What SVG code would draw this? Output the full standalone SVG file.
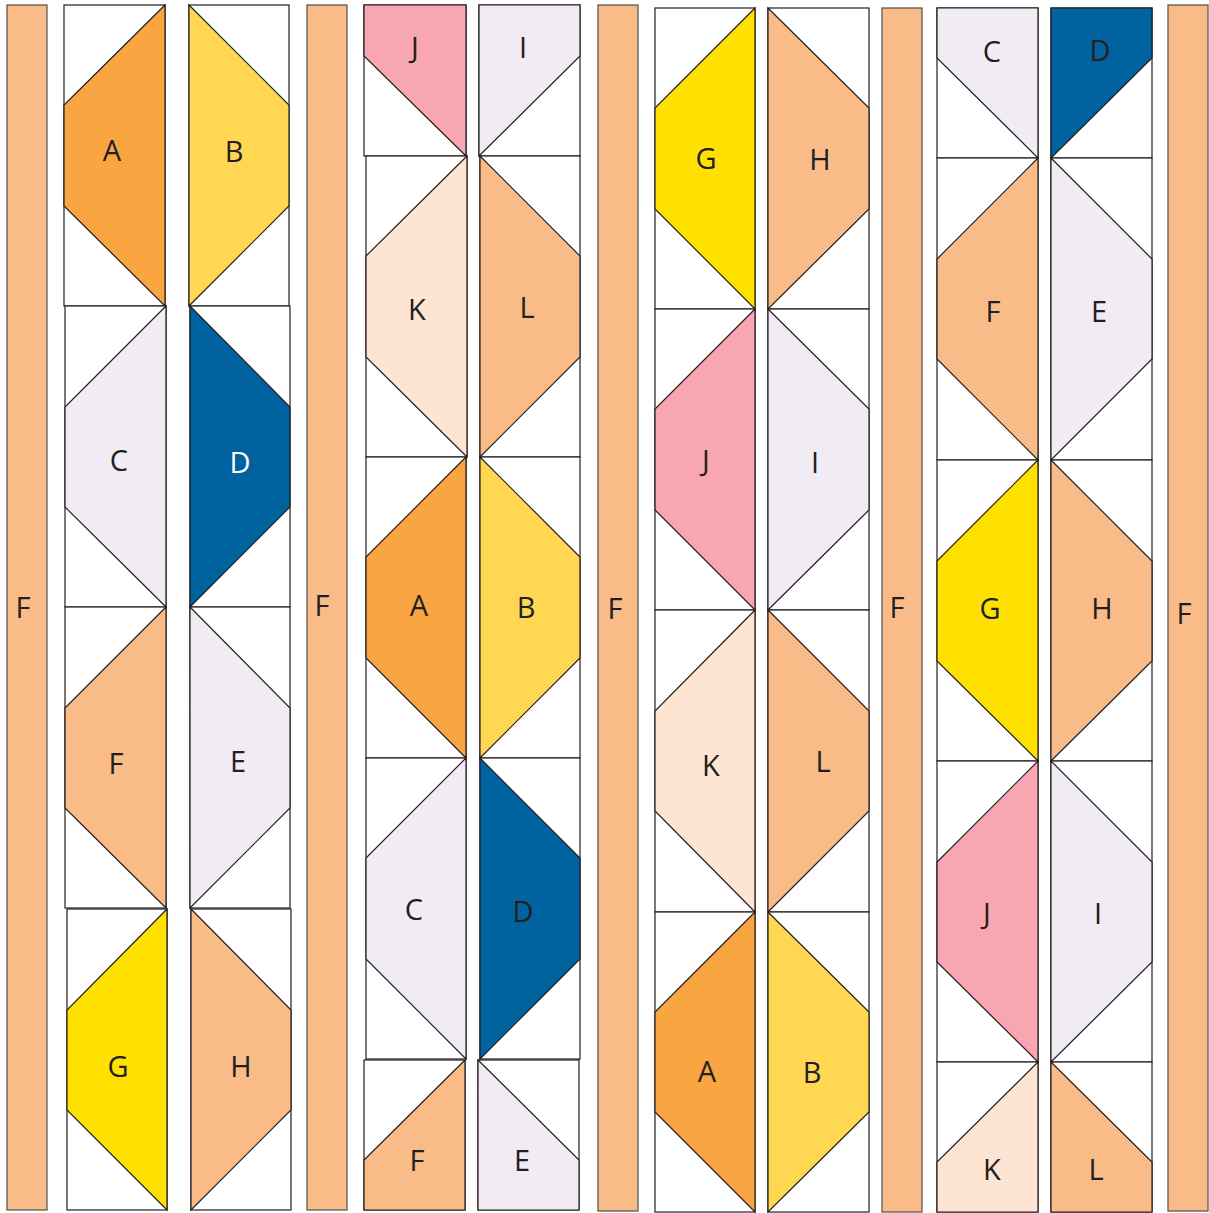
<svg xmlns="http://www.w3.org/2000/svg" width="1209" height="1213" viewBox="0 0 1209 1213">
<style>
rect,polygon{stroke:#231f20;stroke-width:1.2;stroke-linejoin:miter}
.w{fill:#ffffff}
.s{fill:#f9bb87;stroke:#4d4d4d}
.a{fill:#f9a541}.b{fill:#ffd752}.c{fill:#f1ecf4}.d{fill:#00639f}
.p{fill:#f9bb87}.g{fill:#ffe100}.j{fill:#f7a6b2}.k{fill:#fde4d3}
text{font-family:"Open Sans","Liberation Sans",sans-serif;font-size:29px;fill:#231f20;text-anchor:middle}
</style>
<g id="sashing">
<g id="s1"><rect class="s" x="7" y="5" width="40" height="1205"/><text x="23" y="618">F</text></g>
<g id="s2"><rect class="s" x="307" y="5" width="40" height="1205"/><text x="322" y="616">F</text></g>
<g id="s3"><rect class="s" x="598" y="5" width="40" height="1206"/><text x="615" y="619">F</text></g>
<g id="s4"><rect class="s" x="882" y="8" width="40" height="1204"/><text x="897" y="618">F</text></g>
<g id="s5"><rect class="s" x="1168" y="5" width="40" height="1206"/><text x="1184" y="624">F</text></g>
</g>
<g id="col1">
<g id="c1A"><rect class="w" x="64" y="5" width="101" height="301"/><polygon class="a" points="165,5 64,105 64,206 165,306"/><text x="112" y="161">A</text></g>
<g id="c1C"><rect class="w" x="65" y="306" width="101" height="301"/><polygon class="c" points="166,306 65,407 65,507 166,607"/><text x="119" y="471">C</text></g>
<g id="c1F"><rect class="w" x="65" y="607" width="101" height="301"/><polygon class="p" points="166,607 65,708 65,808 166,908"/><text x="116" y="774">F</text></g>
<g id="c1G"><rect class="w" x="67" y="909" width="100" height="301"/><polygon class="g" points="167,909 67,1010 67,1110 167,1210"/><text x="118" y="1077">G</text></g>
<g id="c1B"><rect class="w" x="189" y="5" width="100" height="301"/><polygon class="b" points="189,5 289,105 289,206 189,306"/><text x="234" y="162">B</text></g>
<g id="c1D"><rect class="w" x="190" y="306" width="100" height="301"/><polygon class="d" points="190,306 290,407 290,507 190,607"/><text x="240" y="473" style="fill:#ffffff">D</text></g>
<g id="c1E"><rect class="w" x="190" y="607" width="100" height="301"/><polygon class="c" points="190,607 290,708 290,808 190,908"/><text x="238" y="772">E</text></g>
<g id="c1H"><rect class="w" x="191" y="909" width="100" height="301"/><polygon class="p" points="191,909 291,1010 291,1110 191,1210"/><text x="241" y="1077">H</text></g>
</g>
<g id="col2">
<g id="c2J"><rect class="w" x="364" y="5" width="102" height="151"/><polygon class="j" points="364,5 466,5 466,156 364,56"/><text x="415" y="58">J</text></g>
<g id="c2I"><rect class="w" x="479" y="5" width="101" height="151"/><polygon class="c" points="479,5 580,5 580,56 479,156"/><text x="523" y="58">I</text></g>
<g id="c2K"><rect class="w" x="366" y="156" width="101" height="301"/><polygon class="k" points="467,156 366,256 366,357 467,457"/><text x="417" y="320">K</text></g>
<g id="c2L"><rect class="w" x="480" y="156" width="100" height="301"/><polygon class="p" points="480,156 580,256 580,357 480,457"/><text x="527" y="318">L</text></g>
<g id="c2A"><rect class="w" x="366" y="457" width="100" height="301"/><polygon class="a" points="466,457 366,557 366,658 466,758"/><text x="419" y="616">A</text></g>
<g id="c2B"><rect class="w" x="480" y="457" width="100" height="301"/><polygon class="b" points="480,457 580,557 580,658 480,758"/><text x="526" y="618">B</text></g>
<g id="c2C"><rect class="w" x="366" y="758" width="100" height="301"/><polygon class="c" points="466,758 366,858 366,959 466,1059"/><text x="414" y="920">C</text></g>
<g id="c2D"><rect class="w" x="480" y="758" width="100" height="301"/><polygon class="d" points="480,758 580,858 580,959 480,1059"/><text x="523" y="922">D</text></g>
<g id="c2F"><rect class="w" x="364" y="1060" width="101" height="150"/><polygon class="p" points="465,1060 364,1160 364,1210 465,1210"/><text x="417" y="1171">F</text></g>
<g id="c2E"><rect class="w" x="478" y="1060" width="101" height="150"/><polygon class="c" points="478,1060 579,1160 579,1210 478,1210"/><text x="522" y="1171">E</text></g>
</g>
<g id="col3">
<g id="c3G"><rect class="w" x="655" y="8" width="100" height="301"/><polygon class="g" points="755,8 655,108 655,209 755,309"/><text x="706" y="169">G</text></g>
<g id="c3H"><rect class="w" x="768" y="8" width="101" height="301"/><polygon class="p" points="768,8 869,108 869,209 768,309"/><text x="820" y="170">H</text></g>
<g id="c3J"><rect class="w" x="655" y="309" width="100" height="301"/><polygon class="j" points="755,309 655,409 655,510 755,610"/><text x="706" y="471">J</text></g>
<g id="c3I"><rect class="w" x="768" y="309" width="101" height="301"/><polygon class="c" points="768,309 869,409 869,510 768,610"/><text x="815" y="473">I</text></g>
<g id="c3K"><rect class="w" x="655" y="610" width="100" height="302"/><polygon class="k" points="755,610 655,711 655,811 755,912"/><text x="711" y="776">K</text></g>
<g id="c3L"><rect class="w" x="768" y="610" width="101" height="302"/><polygon class="p" points="768,610 869,711 869,811 768,912"/><text x="823" y="772">L</text></g>
<g id="c3A"><rect class="w" x="655" y="912" width="100" height="300"/><polygon class="a" points="755,912 655,1012 655,1112 755,1212"/><text x="707" y="1082">A</text></g>
<g id="c3B"><rect class="w" x="768" y="912" width="101" height="300"/><polygon class="b" points="768,912 869,1012 869,1112 768,1212"/><text x="812" y="1083">B</text></g>
</g>
<g id="col4">
<g id="c4C"><rect class="w" x="937" y="8" width="101" height="150"/><polygon class="c" points="937,8 1038,8 1038,158 937,58"/><text x="992" y="62">C</text></g>
<g id="c4D"><rect class="w" x="1051" y="8" width="101" height="150"/><polygon class="d" points="1051,8 1152,8 1152,58 1051,158"/><text x="1100" y="61">D</text></g>
<g id="c4F"><rect class="w" x="937" y="158" width="101" height="302"/><polygon class="p" points="1038,158 937,259 937,359 1038,460"/><text x="993" y="322">F</text></g>
<g id="c4E"><rect class="w" x="1051" y="158" width="101" height="302"/><polygon class="c" points="1051,158 1152,259 1152,359 1051,460"/><text x="1099" y="322">E</text></g>
<g id="c4G"><rect class="w" x="937" y="460" width="101" height="301"/><polygon class="g" points="1038,460 937,561 937,661 1038,761"/><text x="990" y="619">G</text></g>
<g id="c4H"><rect class="w" x="1051" y="460" width="101" height="301"/><polygon class="p" points="1051,460 1152,561 1152,661 1051,761"/><text x="1102" y="619">H</text></g>
<g id="c4J"><rect class="w" x="937" y="761" width="101" height="301"/><polygon class="j" points="1038,761 937,862 937,962 1038,1062"/><text x="987" y="924">J</text></g>
<g id="c4I"><rect class="w" x="1051" y="761" width="101" height="301"/><polygon class="c" points="1051,761 1152,862 1152,962 1051,1062"/><text x="1098" y="924">I</text></g>
<g id="c4K"><rect class="w" x="937" y="1062" width="101" height="150"/><polygon class="k" points="1038,1062 937,1162 937,1212 1038,1212"/><text x="992" y="1180">K</text></g>
<g id="c4L"><rect class="w" x="1051" y="1062" width="101" height="150"/><polygon class="p" points="1051,1062 1152,1162 1152,1212 1051,1212"/><text x="1096" y="1180">L</text></g>
</g>
</svg>
